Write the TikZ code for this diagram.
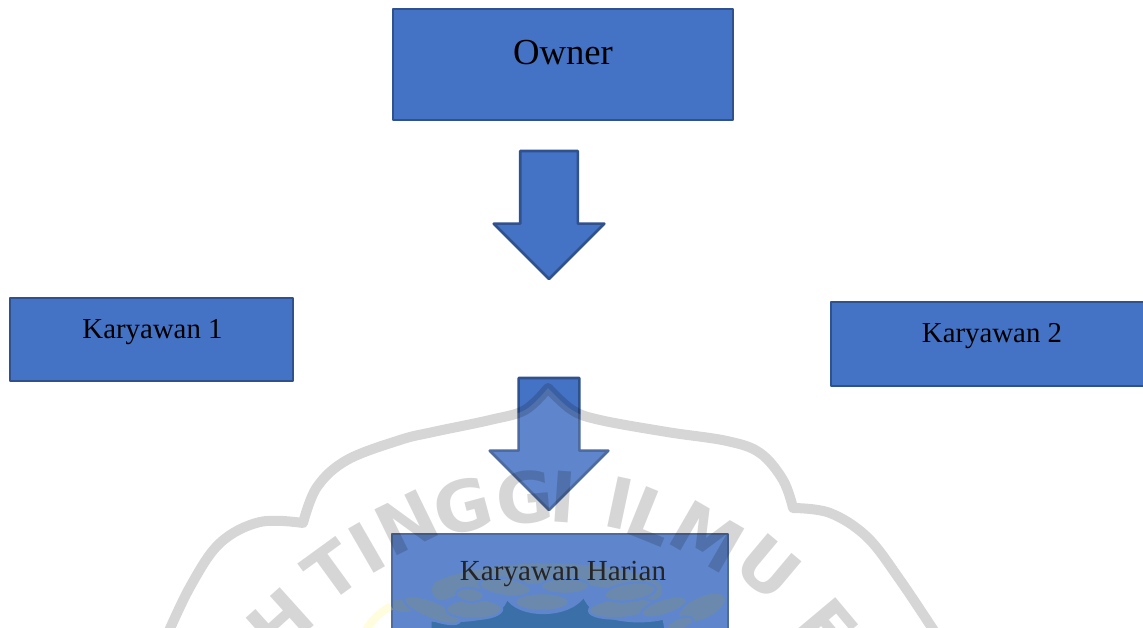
\documentclass[tikz,border=0pt]{standalone}
\usepackage{fontspec}
\setmainfont{Liberation Serif}
\newfontfamily\markfont{DejaVu Sans}
\usetikzlibrary{
	shapes.arrows,
	shapes.geometric,
	}
\definecolor{boxfill}{HTML}{4472C4}
\definecolor{boxline}{HTML}{2F528F}
\definecolor{chainfill}{HTML}{5276A0}
\definecolor{sealblue}{HTML}{195899}
\begin{document}
\begin{tikzpicture}[x=0.025cm,y=-0.025cm,
	jobbox/.style={draw=boxline,fill=boxfill,line width=0.065cm,line join=round,shape=rectangle,inner sep=0pt,outer sep=0pt,font=\fontsize{20.5}{24}\selectfont},
	downarrow/.style={draw=boxline,fill=boxfill,line width=0.065cm,line join=round,shape=single arrow,shape border rotate=270,anchor=tip,outer sep=0pt},
	sealmark/.style={black,opacity=0.16,inner sep=0pt,font=\markfont\bfseries\fontsize{49.8}{50}\selectfont},
	chainlink/.style={shape=ellipse,fill=chainfill,draw=boxfill,line width=0.06cm,inner sep=0pt},
	]
\useasboundingbox (0,0) rectangle (1143,628);
\clip (0,0) rectangle (1143,628);
\node[jobbox,minimum width=8.5cm,text height=1.3875cm,text depth=1.3875cm,font=\fontsize{26.1}{30}\selectfont] (owner) at (563,64.5) {Owner};
\node[jobbox,minimum width=7.075cm,text height=1.025cm,text depth=1.05cm] (staff1) at (151.5,339.5) {\hspace*{0.05cm}Karyawan 1};
\node[jobbox,minimum width=8.05cm,text height=1.025cm,text depth=1.075cm] (staff2) at (992,344) {Karyawan 2};
\node[jobbox,minimum width=8.4cm,minimum height=2.9cm] (daily) at (560,592) {};
\node[downarrow,minimum height=3.2cm,minimum width=2.7cm,inner sep=0.6875cm,single arrow head extend=0.6625cm] (arrow1) at (549,279) {};
\node[downarrow,minimum height=3.3cm,minimum width=2.9cm,inner sep=0.725cm,single arrow head extend=0.725cm] (arrow2) at (549,510) {};
% chain of the seal, seen only through the daily box
\begin{scope}
\clip (393.5,535.5) rectangle (726.5,628);
\draw[chainfill,line width=0.5cm,line cap=round] (442,590) .. controls (490,568) and (605,568) .. (652,590);
\draw[fill=sealblue,draw=boxfill,line width=0.08cm] (430,640) -- (430,620) .. controls (470,622) and (500,620) .. (507,597) .. controls (518,618) and (570,618) .. (584,595) .. controls (592,622) and (640,624) .. (664,618) -- (668,640) -- cycle;
\foreach \cx/\cy/\rx/\ry/\rot [count=\i] in {402/606/14/7/-10,432/610/30/9/-22,474/609/28/10/0,470/595/14/7/-5,505/587/26/9/-8,542/602/27/9/0,565/586/24/8/0,622/608/33/10/5,630/592/26/9/8,664/607/24/8/18,702/608/26/12/25,680/624/14/6/20}
	\node[chainlink,minimum width=2*\rx*0.025cm,minimum height=2*\ry*0.025cm,rotate=\rot] (link\i) at (\cx,\cy) {};
\end{scope}
\node[anchor=base,inner sep=0pt,font=\fontsize{20.7}{24}\selectfont] (dailytext) at (563,580) {Karyawan Harian};
\draw[yellow!60!white,opacity=0.25,line width=0.2cm] (366,630) .. controls (372,620) and (380,612) .. (391,606);
% scalloped outline and letters on top
\draw[draw=black,draw opacity=0.16,fill=white,fill opacity=0.144,line width=0.25cm,line join=round]
	plot[smooth,tension=0.6] coordinates {(165,640) (190,587) (220,543) (260,522) (303,523)}
	-- plot[smooth,tension=0.6] coordinates {(303,523) (317,487) (347,460) (400,440) (433,432) (490,420) (525,410) (548,388)}
	-- plot[smooth,tension=0.6] coordinates {(548,388) (572,410) (600,420) (667,432) (727,441) (760,453) (783,480) (793,508)}
	-- plot[smooth,tension=0.6] coordinates {(793,508) (830,513) (867,537) (900,580) (940,640)};
\foreach \letter/\lx/\ly/\lrot [count=\i] in {H/280/622/42,T/332/571/36,I/367/548/30,N/407/523/26,G/463/506/15,G/525/498/5,I/563/497/-4,I/620/503/-12,L/652/516/-22,M/707/537/-30,U/768/568/-40,E/827/627/-50}
	\node[sealmark,rotate=\lrot] (mark\i) at (\lx,\ly) {\letter};
\end{tikzpicture}
\end{document}
